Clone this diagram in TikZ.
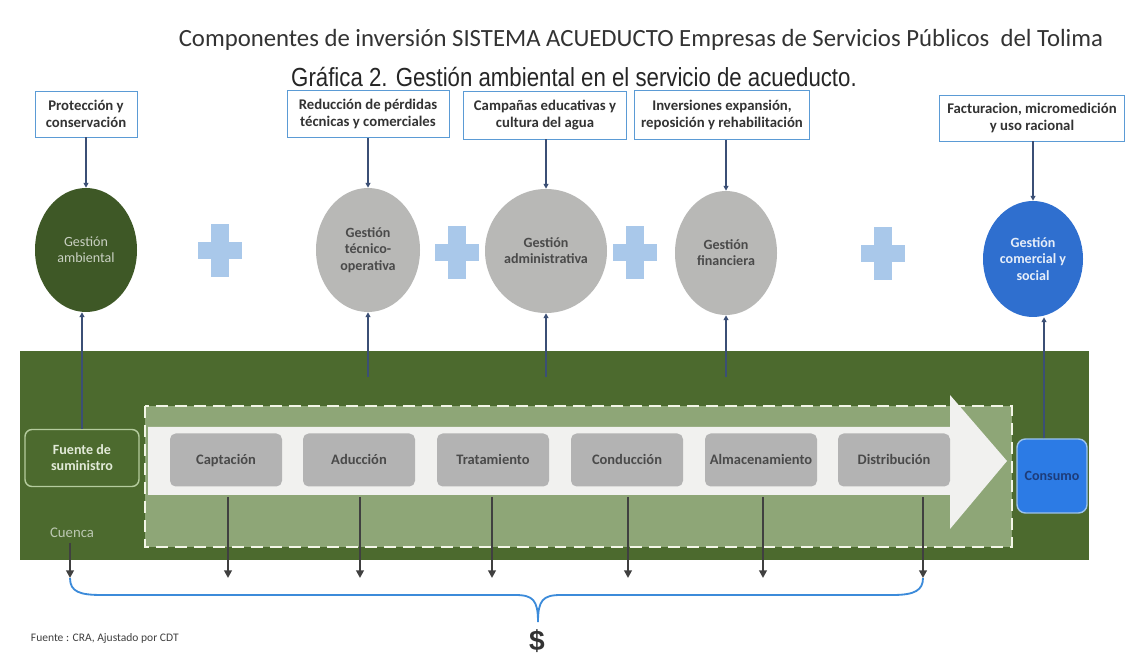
\documentclass[tikz,border=0pt]{standalone}
\usepackage{fontspec}
\setmainfont{Carlito}
\newfontfamily\titlefont[FakeStretch=0.85]{Liberation Sans}
\newfontfamily\signfont{Liberation Sans}
\usetikzlibrary{shapes.geometric,positioning,calc,arrows.meta}

\definecolor{bandgreen}{HTML}{4C6A2E}
\definecolor{darkgreen}{HTML}{3E5826}
\definecolor{sage}{HTML}{8EA677}
\definecolor{dashcream}{HTML}{F2F5E6}
\definecolor{pipewhite}{HTML}{F1F1EF}
\definecolor{stepgray}{HTML}{B3B3B3}
\definecolor{circgray}{HTML}{B8B8B6}
\definecolor{commblue}{HTML}{2F6FCF}
\definecolor{consblue}{HTML}{2C7BE5}
\definecolor{consline}{HTML}{9CC3EC}
\definecolor{consdark}{HTML}{1D3C7A}
\definecolor{plusblue}{HTML}{A9C8EA}
\definecolor{boxblue}{HTML}{5B9BD5}
\definecolor{arrowblue}{HTML}{3B4F75}
\definecolor{bracecol}{HTML}{3C8BDA}
\definecolor{txtgray}{HTML}{4A4A4A}
\definecolor{titlegray}{HTML}{333333}
\definecolor{fuenteline}{HTML}{B5CC9E}
\definecolor{fuentetext}{HTML}{E2EAD8}
\definecolor{cuencatext}{HTML}{BCC8B2}

\newcommand{\pxu}{0.025cm}

\begin{document}
\begin{tikzpicture}[x=0.025cm,y=-0.025cm,
  infobox/.style={draw=boxblue,line width=0.6pt,fill=white,align=center,inner sep=0pt,
    font=\bfseries\fontsize{10.5}{12}\selectfont,text=titlegray},
  gestion/.style={ellipse,inner sep=0pt,align=center,font=\bfseries\fontsize{10}{11.5}\selectfont},
  stepbox/.style={rounded corners=4pt,fill=stepgray,minimum width=112*\pxu,minimum height=53*\pxu,
    inner sep=0pt,text height=1.6ex,text depth=0.4ex,font=\bfseries\fontsize{10.3}{12}\selectfont,text=txtgray},
  downarrow/.style={line width=1.4pt,draw=black!75,-{Triangle[length=5.5pt,width=5.5pt]}},
  feedarrow/.style={line width=0.8pt,draw=arrowblue,-{Triangle[length=3.5pt,width=3.5pt]}},
]

\fill[white] (0,0) rectangle (1126,655);
\useasboundingbox (0,0) rectangle (1126,655);

% titles
\node[font=\fontsize{17.6}{20}\selectfont,text=titlegray] (title) at (641,40)
  {Componentes de inversión SISTEMA ACUEDUCTO Empresas de Servicios Públicos\ \ del Tolima};
\node[font=\titlefont\fontsize{18.6}{21}\selectfont,text=black!85] (subtitle) at (574,77)
  {Gráfica 2. Gestión ambiental en el servicio de acueducto.};

% investment boxes
\node[infobox,minimum width=102*\pxu,minimum height=46*\pxu] (proteccion) at (86,114) {Protección y\\conservación};
\node[infobox,minimum width=162*\pxu,minimum height=47*\pxu] (reduccion) at (368,114) {Reducción de pérdidas\\técnicas y comerciales};
\node[infobox,minimum width=163*\pxu,minimum height=48*\pxu] (campanas) at (545,115) {Campañas educativas y\\cultura del agua};
\node[infobox,minimum width=175*\pxu,minimum height=49*\pxu] (inversiones) at (722,115) {Inversiones expansión,\\reposición y rehabilitación};
\node[infobox,minimum width=185*\pxu,minimum height=46*\pxu] (facturacion) at (1032,118) {Facturacion, micromedición\\y uso racional};

% management circles
\node[gestion,fill=darkgreen,text=white!72!darkgreen,font=\fontsize{10}{11.5}\selectfont,
  minimum width=102*\pxu,minimum height=124*\pxu] (ambiental) at (86,250) {Gestión\\ambiental};
\node[gestion,fill=circgray,text=txtgray,minimum width=104*\pxu,minimum height=124*\pxu] (tecnico) at (368,250) {Gestión\\técnico-\\operativa};
\node[gestion,fill=circgray,text=txtgray,minimum width=122*\pxu,minimum height=124*\pxu] (admin) at (546,251) {Gestión\\administrativa};
\node[gestion,fill=circgray,text=txtgray,minimum width=102*\pxu,minimum height=124*\pxu] (financ) at (726,253) {Gestión\\financiera};
\node[gestion,fill=commblue,text=white!88!commblue,minimum width=100*\pxu,minimum height=116*\pxu] (comercial) at (1033,259) {Gestión\\comercial y\\social};

% plus signs
\foreach \x/\y in {220/251,457/253,635/253,883/254}
  {\fill[plusblue] (\x-22,\y-8.5) rectangle (\x+22,\y+8.5);
   \fill[plusblue] (\x-9,\y-26.5) rectangle (\x+9,\y+26.5);}

% service band
\fill[bandgreen] (20,351) rectangle (1089,560);
\filldraw[fill=sage,draw=dashcream,line width=1.9pt,dash pattern=on 8.5pt off 5pt] (145,406) rectangle (1012,547);
\fill[pipewhite] (148,427) -- (950,427) -- (950,395) -- (1007,461) -- (950,529) -- (950,495) -- (148,495) -- cycle;

\node[draw=fuenteline,line width=1pt,rounded corners=5pt,fill=bandgreen,minimum width=114*\pxu,
  minimum height=57*\pxu,align=center,text=fuentetext,font=\bfseries\fontsize{10}{11.5}\selectfont] (fuente) at (82,458) {Fuente de\\suministro};
\node[text=cuencatext,font=\fontsize{10.5}{12}\selectfont] (cuenca) at (72,533) {Cuenca};
\node[fill=consblue,draw=consline,line width=1pt,rounded corners=6pt,minimum width=70*\pxu,
  minimum height=74*\pxu,text=consdark,font=\bfseries\fontsize{10}{11}\selectfont] (consumo) at (1052,476) {Consumo};

\foreach \n/\lab/\x in {capt/Captación/226,aduc/Aducción/359,trat/Tratamiento/493,
    cond/Conducción/627,alma/Almacenamiento/761,dist/Distribución/894}
  \node[stepbox] (\n) at (\x,460) {\lab};

% connectors
\coordinate (bandtop) at (0,377);
\coordinate (pipelow) at (0,497);
\coordinate (payline) at (0,578);

\foreach \n/\m in {proteccion/ambiental,reduccion/tecnico,campanas/admin,inversiones/financ,facturacion/comercial}
  \draw[feedarrow] (\m.north |- \n.south) -- (\m.north);

\draw[feedarrow] (fuente.north) -- (fuente.north |- ambiental.south);
\foreach \m in {tecnico,admin,financ}
  \draw[feedarrow] (\m.south |- bandtop) -- (\m.south);
\coordinate (consin) at ($(consumo.north)+(-8,0)$);
\draw[feedarrow] (consin) -- (consin |- comercial.south);

\foreach \n/\off in {capt/2,aduc/1,trat/-1,cond/1,alma/2,dist/29}
  \draw[downarrow] ($(\n.south |- pipelow)+(\off,0)$) -- ($(\n.south |- payline)+(\off,0)$);
\draw[downarrow] ($(cuenca.south)+(-2,0)$) -- ($(cuenca.south |- payline)+(-2,0)$);

% payment brace
\coordinate (payleft) at ($(cuenca.south |- payline)+(-2,0)$);
\coordinate (payright) at ($(dist.south |- payline)+(29,0)$);
\coordinate (paytip) at (538,622);
\draw[bracecol,line width=1.3pt] (payleft) .. controls ($(payleft)+(0,14)$) and ($(payleft)+(10,17)$) .. ($(payleft)+(32,17)$)
  -- (515,595) .. controls (533,595) and (538,600) .. (paytip)
  .. controls (538,600) and (543,595) .. (561,595)
  -- ($(payright)+(-30,17)$) .. controls ($(payright)+(-8,17)$) and ($(payright)+(0,12)$) .. (payright);

\node[font=\signfont\bfseries\fontsize{20}{22}\selectfont,text=titlegray] (pago) at (537,641) {\$};
\node[anchor=west,font=\fontsize{8.2}{9.5}\selectfont,text=black!75] (fuentecra) at (26,638) {Fuente : CRA, Ajustado por CDT};

\end{tikzpicture}
\end{document}
